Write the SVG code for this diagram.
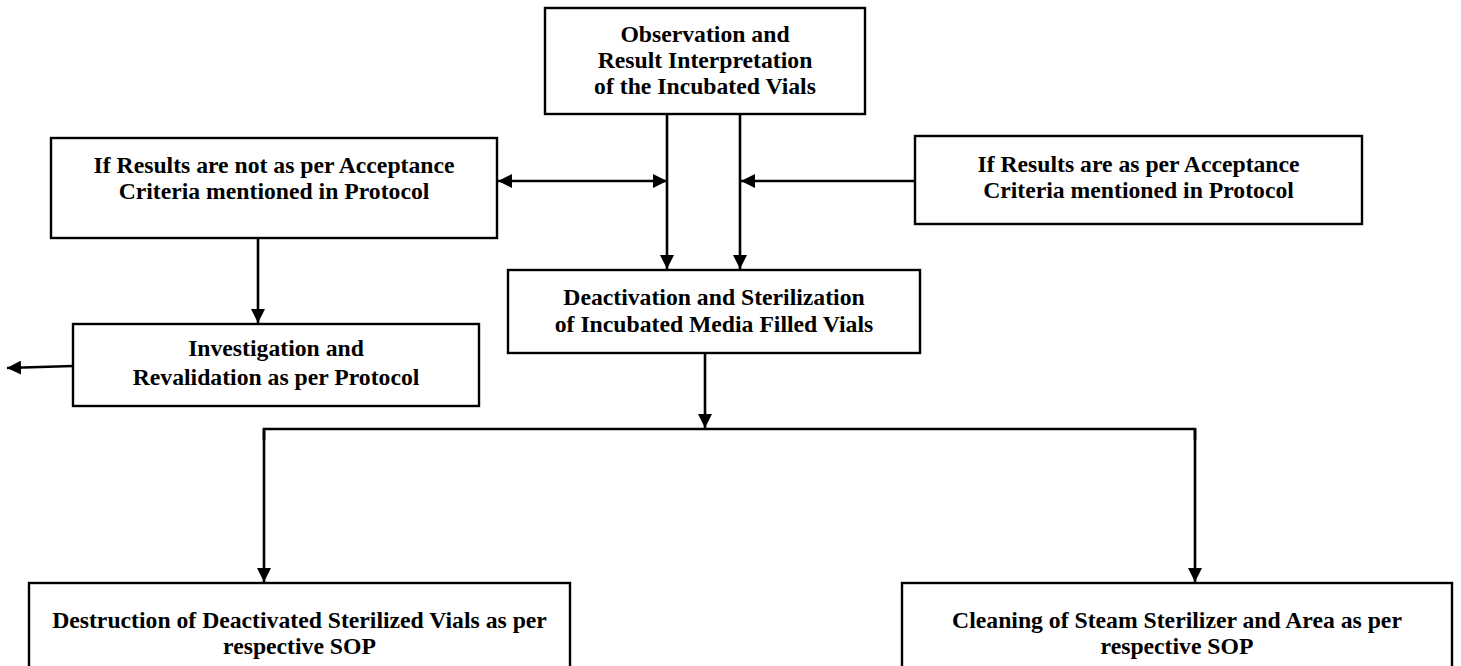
<svg xmlns="http://www.w3.org/2000/svg" width="1461" height="666" viewBox="0 0 1461 666">
<defs>
<style>
.box{fill:#fff;stroke:#000;stroke-width:2.4}
.t{font-family:"Liberation Serif","Times New Roman",serif;font-weight:bold;font-size:23.7px;fill:#000;text-anchor:middle}
.c{stroke:#000;stroke-width:2.6;fill:none}
</style>
<marker id="a" viewBox="0 0 14 14" refX="14" refY="7" markerWidth="14" markerHeight="14" orient="auto-start-reverse" markerUnits="userSpaceOnUse">
<path d="M0,0 L14,7 L0,14 z" fill="#000"/>
</marker>
</defs>
<rect width="1461" height="666" fill="#fff"/>
<g id="connectors">
<line class="c" x1="667" y1="114" x2="667" y2="269" marker-end="url(#a)"/>
<line class="c" x1="740" y1="114" x2="740" y2="269" marker-end="url(#a)"/>
<line class="c" x1="498" y1="181" x2="667" y2="181" marker-start="url(#a)" marker-end="url(#a)"/>
<line class="c" x1="915" y1="181" x2="741" y2="181" marker-end="url(#a)"/>
<line class="c" x1="258" y1="238" x2="258" y2="323" marker-end="url(#a)"/>
<line class="c" x1="73" y1="366" x2="7" y2="368" marker-end="url(#a)"/>
<line class="c" x1="705" y1="353" x2="705" y2="428" marker-end="url(#a)"/>
<polyline class="c" points="264,440 264,429 1195,429 1195,440"/>
<line class="c" x1="264" y1="429" x2="264" y2="582" marker-end="url(#a)"/>
<line class="c" x1="1195" y1="429" x2="1195" y2="582" marker-end="url(#a)"/>
</g>
<g id="n1">
<rect class="box" x="545" y="8" width="320" height="106"/>
<text class="t" x="705" y="42">Observation and</text>
<text class="t" x="705" y="68">Result Interpretation</text>
<text class="t" x="705" y="94">of the Incubated Vials</text>
</g>
<g id="n2">
<rect class="box" x="51" y="138" width="446" height="100"/>
<text class="t" x="274" y="173">If Results are not as per Acceptance</text>
<text class="t" x="274" y="199">Criteria mentioned in Protocol</text>
</g>
<g id="n3">
<rect class="box" x="915" y="136" width="447" height="88"/>
<text class="t" x="1138.5" y="172">If Results are as per Acceptance</text>
<text class="t" x="1138.5" y="198">Criteria mentioned in Protocol</text>
</g>
<g id="n4">
<rect class="box" x="508" y="270" width="412" height="83"/>
<text class="t" x="714" y="305">Deactivation and Sterilization</text>
<text class="t" x="714" y="332">of Incubated Media Filled Vials</text>
</g>
<g id="n5">
<rect class="box" x="73" y="324" width="406" height="82"/>
<text class="t" x="276" y="356">Investigation and</text>
<text class="t" x="276" y="385">Revalidation as per Protocol</text>
</g>
<g id="n6">
<rect class="box" x="29" y="583" width="541" height="100"/>
<text class="t" x="299.5" y="628">Destruction of Deactivated Sterilized Vials as per</text>
<text class="t" x="299.5" y="654">respective SOP</text>
</g>
<g id="n7">
<rect class="box" x="902" y="583" width="550" height="100"/>
<text class="t" x="1177" y="628">Cleaning of Steam Sterilizer and Area as per</text>
<text class="t" x="1177" y="654">respective SOP</text>
</g>
</svg>
